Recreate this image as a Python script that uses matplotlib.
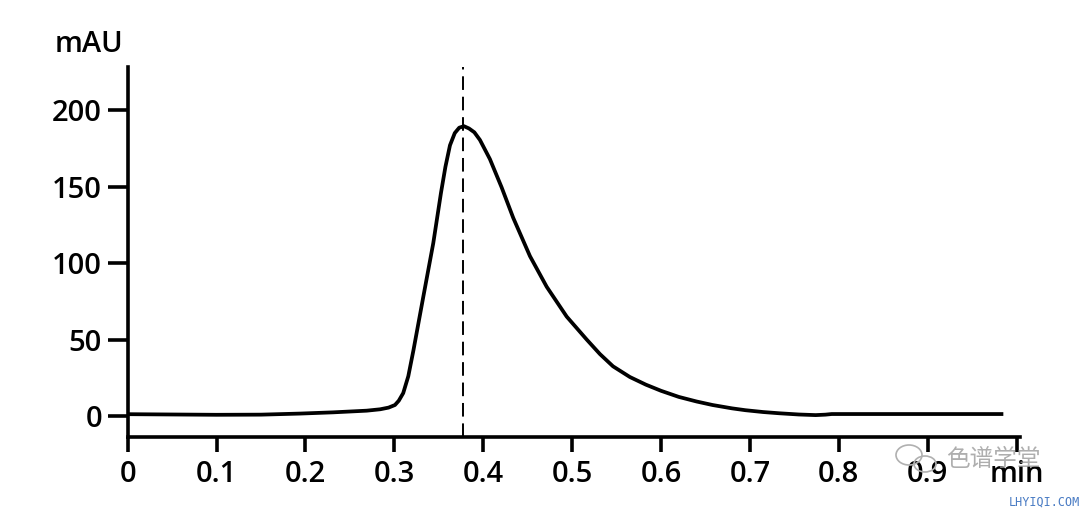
import matplotlib
matplotlib.use("Agg")
import matplotlib.pyplot as plt
from matplotlib.patches import Ellipse

# chromatogram (time in min, signal in mAU)
t_min = [0, 0.05, 0.1, 0.15, 0.194, 0.231, 0.269, 0.284, 0.2935, 0.3007,
         0.305, 0.31, 0.3157, 0.3215, 0.3326, 0.3438, 0.3525, 0.3575, 0.3626,
         0.368, 0.373, 0.3783, 0.384, 0.390, 0.3963, 0.4075, 0.4132, 0.4207,
         0.4338, 0.4526, 0.4714, 0.4939, 0.5164, 0.5313, 0.546, 0.565, 0.583,
         0.60, 0.62, 0.64, 0.658, 0.68, 0.695, 0.715, 0.733, 0.755, 0.774,
         0.785, 0.792, 0.85, 0.9, 0.983]
mau = [1.2, 1.0, 0.8, 0.9, 1.6, 2.4, 3.5, 4.4, 5.5, 7.2,
       10, 15, 26, 43, 78, 113, 146, 163, 177,
       185, 188.5, 189.5, 188, 185.5, 180.5, 168, 160, 149.5,
       129.5, 104.5, 84.5, 65, 50, 40.5, 32.5, 25.5, 20.5,
       16.5, 12.5, 9.5, 7.2, 5.0, 3.8, 2.6, 1.8, 1.0, 0.6,
       0.9, 1.3, 1.3, 1.3, 1.3]
peak_t = 0.3775

x_ticks = [0, 0.1, 0.2, 0.3, 0.4, 0.5, 0.6, 0.7, 0.8, 0.9, 1.0]
x_labels = ["0", "0.1", "0.2", "0.3", "0.4", "0.5", "0.6", "0.7", "0.8", "0.9", "min"]
y_ticks = [0, 50, 100, 150, 200]

plt.rcParams['font.family'] = ['Open Sans', 'DejaVu Sans']
plt.rcParams['font.weight'] = 'semibold'

fig = plt.figure(figsize=(10.8, 5.09), dpi=100)
ax = fig.add_axes([0.1182, 0.1415, 0.9444 - 0.1182, 0.869 - 0.1415])

ax.plot(t_min, mau, color="black", lw=2.7, solid_joinstyle="round")
ax.axvline(peak_t, ymin=0, ymax=1.0, color="black", lw=1.4, dashes=(7, 3.5))

ax.set_xlim(0, 1.0038)
ax.set_ylim(-13.7, 228.4)
ax.set_xticks(x_ticks)
ax.set_xticklabels(x_labels)
ax.set_yticks(y_ticks)

for s in ["top", "right"]:
    ax.spines[s].set_visible(False)
for s in ["left", "bottom"]:
    ax.spines[s].set_linewidth(2.6)

ax.tick_params(axis="y", length=14.5, width=2.6, pad=4, labelsize=21)
ax.tick_params(axis="x", length=10.5, width=2.6, pad=6, labelsize=21)

fig.text(55 / 1080, 1 - 45 / 509, "mAU", fontsize=21, ha="left", va="center")

# watermark
for cx, cy, w, h in [(909, 455, 26, 20), (925, 464, 22, 16)]:
    fig.add_artist(Ellipse((cx / 1080, 1 - cy / 509), w / 1080, h / 509,
                           transform=fig.transFigure, fill=False,
                           edgecolor="#b0b0b0", lw=1.2))
fig.text(993 / 1080, 1 - 459 / 509, "色谱学堂", fontsize=17, color="#9a9a9a",
         alpha=0.8, ha="center", va="center", family=["Noto Sans CJK SC"],
         fontweight="normal")
fig.text(1044 / 1080, 1 - 502 / 509, "LHYIQI.COM", fontsize=8.5, color="#4a7cc4",
         ha="center", va="center", family=["DejaVu Sans Mono"],
         fontweight="normal")

fig.savefig("out.png", dpi=100)
